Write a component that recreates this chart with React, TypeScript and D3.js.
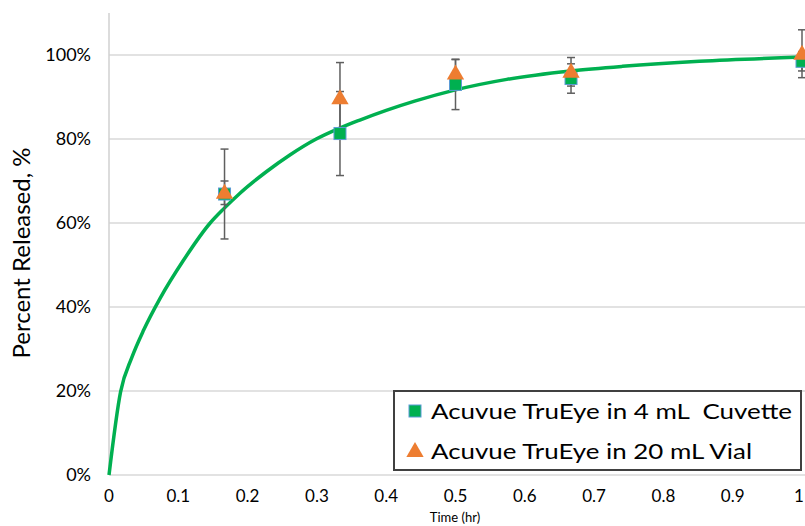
import React from "react";
import * as d3 from "d3";

// ---- data ----
const timeHr = [0.1667, 0.3333, 0.5, 0.6667, 1.0];
const cuvetteVals = [0.669, 0.813, 0.93, 0.944, 0.985];
const cuvetteErr = [0.107, 0.1, 0.06, 0.035, 0.023];
const vialVals = [0.672, 0.897, 0.956, 0.96, 1.003];
const vialErr = [0.028, 0.085, 0.033, 0.034, 0.057];

const fitX = [0, 0.0167, 0.033, 0.05, 0.0735, 0.107, 0.146, 0.165, 0.189, 0.227, 0.261, 0.299, 0.333, 0.362, 0.4, 0.441, 0.5, 0.574, 0.666, 0.741, 0.852, 1.0];
const fitY = [0, 0.198, 0.28, 0.345, 0.42, 0.51, 0.6, 0.633, 0.671, 0.722, 0.762, 0.8, 0.826, 0.845, 0.868, 0.89, 0.917, 0.942, 0.962, 0.973, 0.985, 0.995];

const xTicks = [0, 0.1, 0.2, 0.3, 0.4, 0.5, 0.6, 0.7, 0.8, 0.9, 1];
const yTicks = [0, 0.2, 0.4, 0.6, 0.8, 1.0];

const legendLabels = ["Acuvue TruEye in 4 mL  Cuvette", "Acuvue TruEye in 20 mL Vial"];

const W = 805;
const H = 526;
const FONT = "Lato, 'Open Sans', sans-serif";

export default function App() {
  const x = d3.scaleLinear().domain([0, 1]).range([109, 802]);
  const y = d3.scaleLinear().domain([0, 1.1]).range([475, 13]);

  const line = d3
    .line<number>()
    .x((_, i) => x(fitX[i]))
    .y((d) => y(d))
    .curve(d3.curveMonotoneX);

  const triPath = d3.symbol().type(d3.symbolTriangle).size(130)() as string;

  const errBar = (cx: number, v: number, e: number, key: string) => {
    const px = x(cx);
    const y1 = y(v + e);
    const y2 = y(v - e);
    return (
      <g key={key} stroke="#5f5f5f" strokeWidth={1.5}>
        <line x1={px} x2={px} y1={y1} y2={y2} />
        <line x1={px - 4} x2={px + 4} y1={y1} y2={y1} />
        <line x1={px - 4} x2={px + 4} y1={y2} y2={y2} />
      </g>
    );
  };

  return (
    <svg
      width={W}
      height={H}
      style={{ position: "absolute", left: 0, top: 0, background: "#fff" }}
      fontFamily={FONT}
    >
      {/* gridlines */}
      {yTicks.map((t) => (
        <line key={"g" + t} x1={109} x2={W} y1={y(t)} y2={y(t)} stroke="#d9d9d9" strokeWidth={1.5} />
      ))}
      {/* y axis line */}
      <line x1={109} x2={109} y1={y(1.1)} y2={y(0)} stroke="#d0d0d0" strokeWidth={1.5} />

      {/* y tick labels */}
      {yTicks.map((t) => (
        <text key={"yl" + t} x={91} y={y(t)} dy="0.35em" textAnchor="end" fontSize={18} fill="#000">
          {d3.format(".0%")(t)}
        </text>
      ))}
      {/* x tick labels */}
      {xTicks.map((t) => (
        <text
          key={"xl" + t}
          x={t === 1 ? x(t) - 3 : x(t)}
          y={502}
          textAnchor="middle"
          fontSize={17}
          fill="#000"
        >
          {String(t)}
        </text>
      ))}

      {/* axis titles */}
      <text x={455} y={522} textAnchor="middle" fontSize={13} fill="#000">
        Time (hr)
      </text>
      <text transform={`translate(30, 253) rotate(-90)`} textAnchor="middle" fontSize={24} fill="#000">
        Percent Released, %
      </text>

      {/* fitted curve */}
      <path d={line(fitY) as string} fill="none" stroke="#00b050" strokeWidth={3.5} strokeLinejoin="round" />

      {/* error bars */}
      {timeHr.map((t, i) => errBar(t, cuvetteVals[i], cuvetteErr[i], "ec" + i))}
      {timeHr.map((t, i) => errBar(t, vialVals[i], vialErr[i], "ev" + i))}

      {/* cuvette markers */}
      {timeHr.map((t, i) => (
        <rect
          key={"c" + i}
          x={x(t) - 6}
          y={y(cuvetteVals[i]) - 6}
          width={12}
          height={12}
          fill="#00b050"
          stroke="#5b9bd5"
          strokeWidth={1}
        />
      ))}
      {/* vial markers */}
      {timeHr.map((t, i) => (
        <path key={"v" + i} d={triPath} transform={`translate(${x(t)},${y(vialVals[i]) + 1})`} fill="#ed7d31" />
      ))}

      {/* legend */}
      <rect x={394} y={391} width={407} height={79} fill="#fff" stroke="#404040" strokeWidth={2} />
      <rect x={409} y={405} width={12} height={12} fill="#00b050" stroke="#5b9bd5" strokeWidth={1} />
      <path d={triPath} transform="translate(415,452)" fill="#ed7d31" />
      <text
        x={431}
        y={419}
        fontSize={22}
        fill="#000"
        style={{ whiteSpace: "pre" }}
        textLength={361}
        lengthAdjust="spacingAndGlyphs"
      >
        {legendLabels[0]}
      </text>
      <text x={431} y={459} fontSize={22} fill="#000" textLength={321} lengthAdjust="spacingAndGlyphs">
        {legendLabels[1]}
      </text>
    </svg>
  );
}
